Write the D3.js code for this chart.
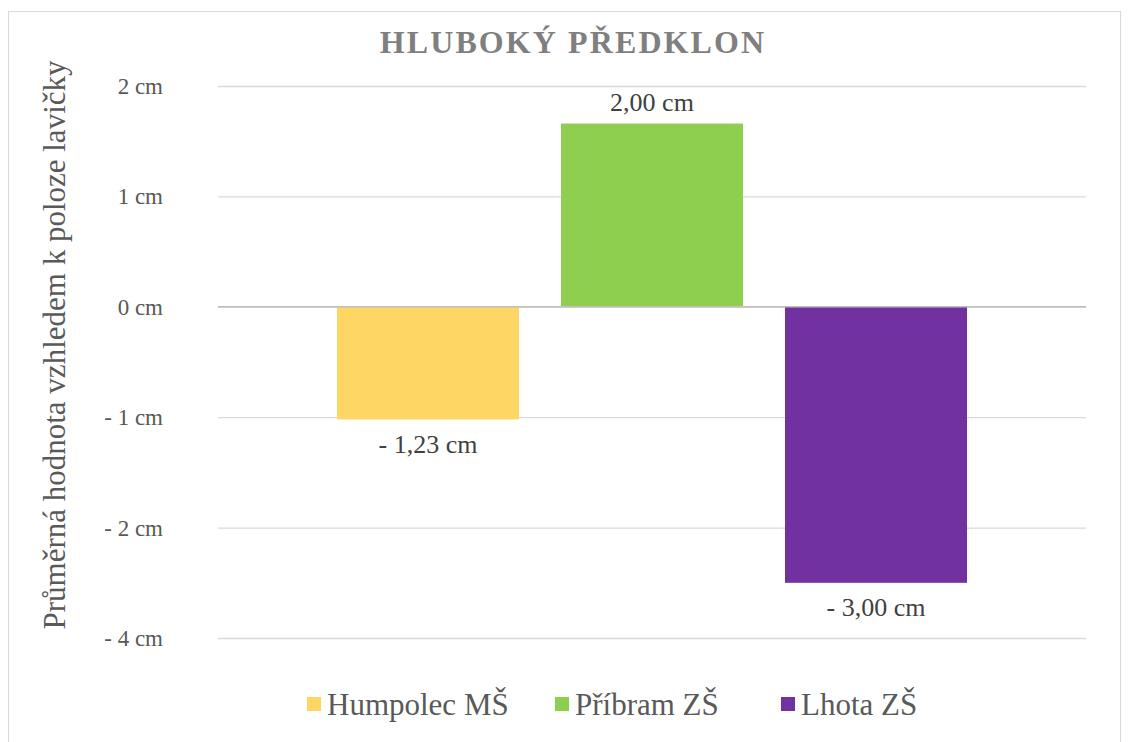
<!DOCTYPE html>
<html>
<head>
<meta charset="utf-8">
<script src="https://cdn.jsdelivr.net/npm/d3@7"></script>
<style>
  body { margin: 0; background: #fff; }
</style>
</head>
<body>
<svg width="1129" height="742" font-family="'Liberation Serif', 'DejaVu Serif', serif"></svg>
<script>
// categories (series) of the single group
const schools = ["Humpolec MŠ", "Příbram ZŠ", "Lhota ZŠ"];
// bar heights as drawn, in grid units (the axis is not linear in cm)
const barHeights = [-1.02, 1.66, -2.50];
// data labels as printed on the chart
const valueLabels = ["- 1,23 cm", "2,00 cm", "- 3,00 cm"];
const colors = ["#fdd663", "#8fcf4f", "#7131a0"];
// y-axis gridline positions and their labels
const tickValues = [2, 1, 0, -1, -2, -3];
const tickLabels = ["2 cm", "1 cm", "0 cm", "- 1 cm", "- 2 cm", "- 4 cm"];

const svg = d3.select("svg");

// outer frame
svg.append("rect")
  .attr("x", 8.5).attr("y", 11.5)
  .attr("width", 1112).attr("height", 745)
  .attr("fill", "none")
  .attr("stroke", "#d9d9d9");

const plotLeft = 218, plotRight = 1086;

const y = d3.scaleLinear()
  .domain([-3, 2])
  .range([638, 86]);

const x = d3.scaleBand()
  .domain(schools)
  .range([plotLeft, plotRight])
  .paddingInner(0.1875)
  .paddingOuter(0.53125);

// gridlines
svg.append("g")
  .attr("transform", `translate(${plotLeft},0)`)
  .call(d3.axisLeft(y).tickValues(tickValues).tickSize(-(plotRight - plotLeft)).tickFormat(""))
  .call(g => g.select(".domain").remove())
  .call(g => g.selectAll("line").attr("stroke", "#d9d9d9").attr("stroke-width", 1.3));

// tick labels
svg.append("g")
  .selectAll("text")
  .data(tickValues)
  .join("text")
  .attr("x", 163)
  .attr("y", d => y(d))
  .attr("dy", "0.35em")
  .attr("text-anchor", "end")
  .attr("font-size", 23)
  .attr("fill", "#595959")
  .text((d, i) => tickLabels[i]);

// bars
svg.append("g")
  .selectAll("rect")
  .data(barHeights)
  .join("rect")
  .attr("x", (d, i) => x(schools[i]))
  .attr("y", d => y(Math.max(0, d)))
  .attr("width", x.bandwidth())
  .attr("height", d => Math.abs(y(d) - y(0)))
  .attr("fill", (d, i) => colors[i]);

// zero line
svg.append("line")
  .attr("x1", plotLeft).attr("x2", plotRight)
  .attr("y1", y(0)).attr("y2", y(0))
  .attr("stroke", "#bfbfbf")
  .attr("stroke-width", 1.5);

// value labels
svg.append("g")
  .selectAll("text")
  .data(barHeights)
  .join("text")
  .attr("x", (d, i) => x(schools[i]) + x.bandwidth() / 2)
  .attr("y", d => d >= 0 ? y(d) - 22 : y(d) + 24)
  .attr("dy", "0.35em")
  .attr("text-anchor", "middle")
  .attr("font-size", 26)
  .attr("fill", "#404040")
  .text((d, i) => valueLabels[i]);

// title
svg.append("text")
  .attr("x", 573)
  .attr("y", 42)
  .attr("dy", "0.35em")
  .attr("text-anchor", "middle")
  .attr("font-size", 32)
  .attr("font-weight", "bold")
  .attr("letter-spacing", 2.1)
  .attr("fill", "#7f7f7f")
  .text("HLUBOKÝ PŘEDKLON");

// y-axis title
svg.append("text")
  .attr("transform", "translate(54,345) rotate(-90)")
  .attr("dy", "0.35em")
  .attr("text-anchor", "middle")
  .attr("font-size", 31)
  .attr("fill", "#595959")
  .text("Průměrná hodnota vzhledem k poloze lavičky");

// legend
const legendX = [307, 555, 781];
const legend = svg.append("g")
  .selectAll("g")
  .data(schools)
  .join("g")
  .attr("transform", (d, i) => `translate(${legendX[i]},704)`);

legend.append("rect")
  .attr("x", 0).attr("y", -7)
  .attr("width", 14).attr("height", 14)
  .attr("fill", (d, i) => colors[i]);

legend.append("text")
  .attr("x", 20)
  .attr("y", 0)
  .attr("dy", "0.35em")
  .attr("font-size", 31)
  .attr("fill", "#595959")
  .text(d => d);
</script>
</body>
</html>
